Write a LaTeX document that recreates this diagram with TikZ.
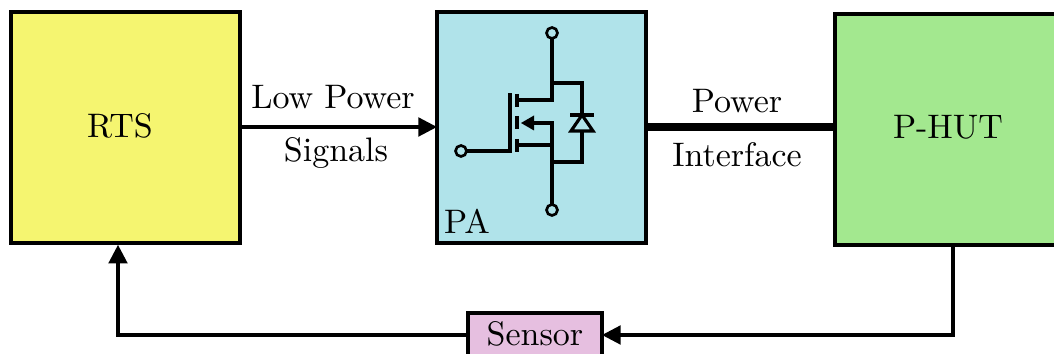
\documentclass[tikz,border=0pt]{standalone}
\usetikzlibrary{arrows.meta,positioning,calc}
\definecolor{rtsfill}{HTML}{F5F570}
\definecolor{pafill}{HTML}{B0E3EA}
\definecolor{hutfill}{HTML}{A3E88F}
\definecolor{senfill}{HTML}{E6BFE0}
\tikzset{
  blockbox/.style={draw=black,line width=1.2pt,inner sep=0pt,outer sep=0pt},
  wire/.style={draw=black,line width=0.95pt},
  sig/.style={wire,-{Triangle[length=5.6pt,width=5.6pt]}},
  pin/.style={circle,draw=black,line width=0.8pt,fill=pafill,minimum size=3.3pt,inner sep=0pt,outer sep=0pt},
  lab/.style={inner sep=0pt,text=black,font=\fontsize{10.2pt}{12pt}\selectfont},
}
\begin{document}
\begin{tikzpicture}[x=0.3pt,y=-0.3pt]
\useasboundingbox (0,0) rectangle (1054,354);
% blocks
\node[blockbox,fill=rtsfill,minimum width=68.7pt,minimum height=69.3pt] (rts) at (125.5,127.5) {};
\node[lab] (rtslab) at (120,126) {RTS};
\node[blockbox,fill=pafill,minimum width=62.7pt,minimum height=69.3pt] (pa) at (541.5,127.5) {};
\node[lab] (palab) at (467,221) {PA};
\node[blockbox,fill=hutfill,minimum width=67.8pt,minimum height=69.3pt] (hut) at (948,129.5) {};
\node[lab] (hutlab) at (948,127) {P-HUT};
\node[blockbox,fill=senfill,minimum width=40.2pt,minimum height=13.5pt] (sen) at (535,335.5) {};
\node[lab] (senlab) at (535,334) {Sensor};
% connectors
\draw[sig] (rts.east |- 0,127) coordinate (ra) -- (pa.west |- ra);
\draw[draw=black,line width=2.4pt] (pa.east |- 0,127) coordinate (pb) -- (hut.west |- pb);
\coordinate (hb) at (953,245);
\coordinate (hc) at (953,335);
\draw[sig] (hb) -- (hc) -- (sen.east |- hc);
\coordinate (sl) at (118,335);
\coordinate (rb) at (118,244.8);
\draw[sig] (sen.west |- sl) -- (sl) -- (rb);
\node[lab] (t1) at (333,97) {Low Power};
\node[lab] (t2) at (336,153) {Signals};
\node[lab] (t3) at (737,101) {Power};
\node[lab] (t4) at (737,155) {Interface};
% MOSFET
\node[pin] (drain) at (552,33) {};
\node[pin] (source) at (552,210) {};
\node[pin] (gate) at (461,151) {};
\coordinate (gc) at (510,151);
\coordinate (gt) at (510,93);
\coordinate (d1) at (517,100);
\coordinate (d2) at (552,100);
\coordinate (s1) at (517,145);
\coordinate (s2) at (552,145);
\coordinate (b1) at (521,123);
\coordinate (b3) at (530,123);
\coordinate (b2) at (552,123);
\coordinate (dj) at (552,83);
\coordinate (dc) at (582,83);
\coordinate (sj) at (552,162);
\coordinate (sc) at (582,162);
\coordinate (tip) at (582,115);
\coordinate (bl) at (571,131);
\coordinate (br) at (593,131);
\draw[wire] (drain) -- (d2) -- (d1);
\draw[wire] (source) -- (s2) -- (s1);
\draw[wire] (s2) -- (b2) -- (b3);
\fill[black] (b1) -- (534,115.5) -- (534,130.5) -- cycle;
\draw[wire] (gate) -- (gc) -- (gt);
\draw[draw=black,line width=1.1pt] (517,94) -- (517,107) (517,116) -- (517,129) (517,139) -- (517,152);
\draw[wire] (dj) -- (dc) -- (tip);
\draw[wire] (sj) -- (sc) -- (582,131);
\draw[wire,line join=miter] (tip) -- (bl) -- (br) -- cycle;
\draw[wire] (570,115) -- (594,115);
\end{tikzpicture}
\end{document}
